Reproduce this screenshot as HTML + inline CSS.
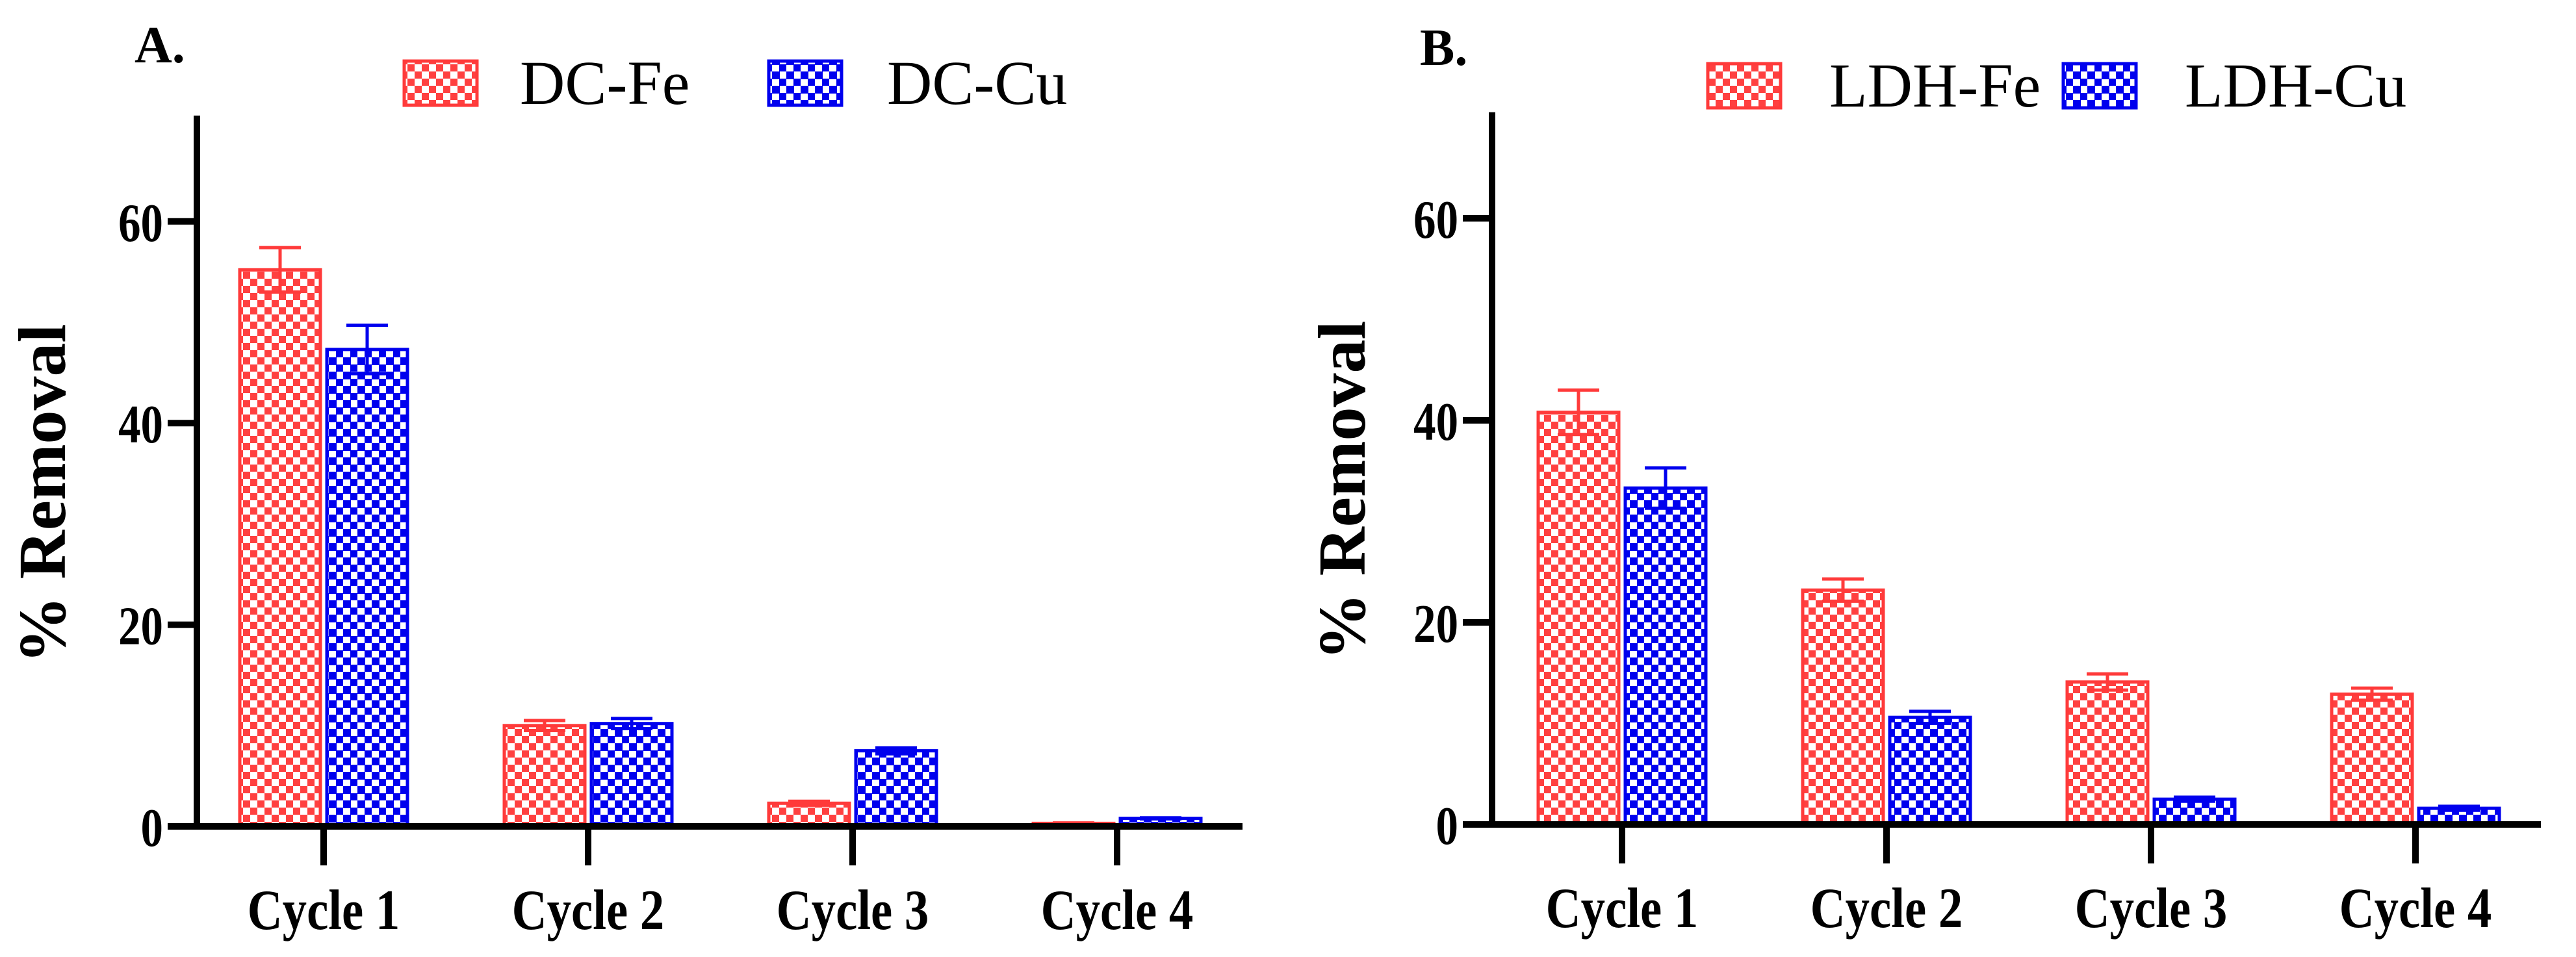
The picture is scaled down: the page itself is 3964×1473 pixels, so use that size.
<!DOCTYPE html>
<html><head><meta charset="utf-8"><style>
html,body{margin:0;padding:0;background:#fff;}
svg{display:block;font-family:"Liberation Serif",serif;}
</style></head><body>
<svg id="chart" width="3964" height="1473" viewBox="0 0 3964 1473" xmlns="http://www.w3.org/2000/svg">
<defs>
<pattern id="redChk" width="22" height="22" patternUnits="userSpaceOnUse">
<rect width="22" height="22" fill="#fff"/><rect width="11" height="11" fill="#ff4040"/><rect x="11" y="11" width="11" height="11" fill="#ff4040"/>
</pattern>
<pattern id="blueChk" width="22" height="22" patternUnits="userSpaceOnUse">
<rect width="22" height="22" fill="#fff"/><rect width="12" height="12" fill="#0000ee"/><rect x="11" y="11" width="12" height="12" fill="#0000ee"/>
</pattern>
</defs>
</svg>
<script>
const categories = ["Cycle 1","Cycle 2","Cycle 3","Cycle 4"];
const yTicks = [0,20,40,60];
const seriesAFe = [55.2,10.0,2.3,0.3];
const seriesAFeErr = [2.2,0.5,0.2,0.05];
const seriesACu = [47.3,10.2,7.5,0.8];
const seriesACuErr = [2.4,0.5,0.3,0.05];
const seriesBFe = [40.8,23.2,14.1,12.9];
const seriesBFeErr = [2.2,1.1,0.8,0.6];
const seriesBCu = [33.3,10.6,2.5,1.6];
const seriesBCuErr = [2.0,0.6,0.2,0.2];
const legendA = ["DC-Fe","DC-Cu"];
const legendB = ["LDH-Fe","LDH-Cu"];

const svg = document.getElementById('chart');
const NS = 'http://www.w3.org/2000/svg';
function mk(tag, attrs, parent){const e=document.createElementNS(NS,tag);for(const k in attrs)e.setAttribute(k,attrs[k]);(parent||svg).appendChild(e);return e;}

function panel(cfg){
  const g = mk('g',{});
  
  
  const y = v => cfg.y0 - v*cfg.ppu;
  const x = i => cfg.xc0 + i*cfg.step;
  const series = [[cfg.fe,cfg.feErr,'url(#redChk)','#ff3a3a',-1],[cfg.cu,cfg.cuErr,'url(#blueChk)','#0000ee',1]];
  series.forEach((s,si)=>{
    s[0].forEach((v,i)=>{
      const cx = x(i) + s[4]*67;
      const bw = 124;
      const r = mk('rect',{x:cx-bw/2,y:y(v),width:bw,height:cfg.y0-y(v),fill:s[2],stroke:s[3],'stroke-width':5},g);
      
      
      const e = s[1][i];
      const eg = mk('g',{stroke:s[3],'stroke-width':5,fill:'none'},g);
      
      
      mk('line',{x1:cx,x2:cx,y1:y(v+e),y2:y(v-e)},eg);
      mk('line',{x1:cx-32,x2:cx+32,y1:y(v+e),y2:y(v+e)},eg);
      mk('line',{x1:cx-32,x2:cx+32,y1:y(v-e),y2:y(v-e)},eg);
    });
  });
  const ax = mk('g',{stroke:'#000','stroke-width':10},g);
  
  
  mk('line',{x1:cfg.ax,x2:cfg.ax,y1:y(70.5),y2:cfg.y0+5},ax);
  mk('line',{x1:cfg.ax-45,x2:cfg.axEnd,y1:cfg.y0,y2:cfg.y0},ax);
  yTicks.forEach(t=>{
    mk('line',{x1:cfg.ax-45,x2:cfg.ax,y1:y(t),y2:y(t)},ax);
    const tl = mk('text',{x:cfg.ax-52,y:y(t)+30,'text-anchor':'end','font-size':84,'font-weight':'bold',transform:`translate(${cfg.ax-52},0) scale(0.82,1) translate(${-(cfg.ax-52)},0)`},g);
    tl.textContent = t;
    
    
  });
  categories.forEach((c,i)=>{
    mk('line',{x1:x(i),x2:x(i),y1:cfg.y0,y2:cfg.y0+60},ax);
    const tl = mk('text',{x:x(i),y:cfg.y0+158,'text-anchor':'middle','font-size':88,'font-weight':'bold',transform:`translate(${x(i)},0) scale(0.85,1) translate(${-x(i)},0)`},g);
    tl.textContent = c;
    
    
  });
  const yt = mk('text',{x:0,y:0,'text-anchor':'middle','font-size':104,'font-weight':'bold',transform:`translate(${cfg.ytx},${cfg.yty}) rotate(-90)`},g);
  yt.textContent = '% Removal';
  
  
  const pl = mk('text',{x:cfg.lblx,y:cfg.lbly,'font-size':80,'font-weight':'bold'},g);
  pl.textContent = cfg.label;
  
  
  cfg.legend.forEach((t,i)=>{
    const lg = mk('g',{},g);
    
    
    mk('rect',{x:cfg.legX[i],y:cfg.legY,width:112,height:68,fill:i?'url(#blueChk)':'url(#redChk)',stroke:i?'#0000ee':'#ff3a3a','stroke-width':5},lg);
    const lt = mk('text',{x:cfg.legTX[i],y:cfg.legY+66,'font-size':96},lg);
    lt.textContent = t;
  });
}
panel({name:'panel-a',y0:1272,ppu:15.52,xc0:498,step:407,ax:303,axEnd:1912,fe:seriesAFe,feErr:seriesAFeErr,cu:seriesACu,cuErr:seriesACuErr,
  ytx:100,yty:760,lblx:207,lbly:96,label:'A.',legend:legendA,legX:[622,1183],legY:94,legTX:[800,1365]});
panel({name:'panel-b',y0:1269,ppu:15.55,xc0:2496,step:407,ax:2296,axEnd:3910,fe:seriesBFe,feErr:seriesBFeErr,cu:seriesBCu,cuErr:seriesBCuErr,
  ytx:2100,yty:755,lblx:2185,lbly:100,label:'B.',legend:legendB,legX:[2628,3175],legY:98,legTX:[2815,3362]});
</script>
</body></html>
